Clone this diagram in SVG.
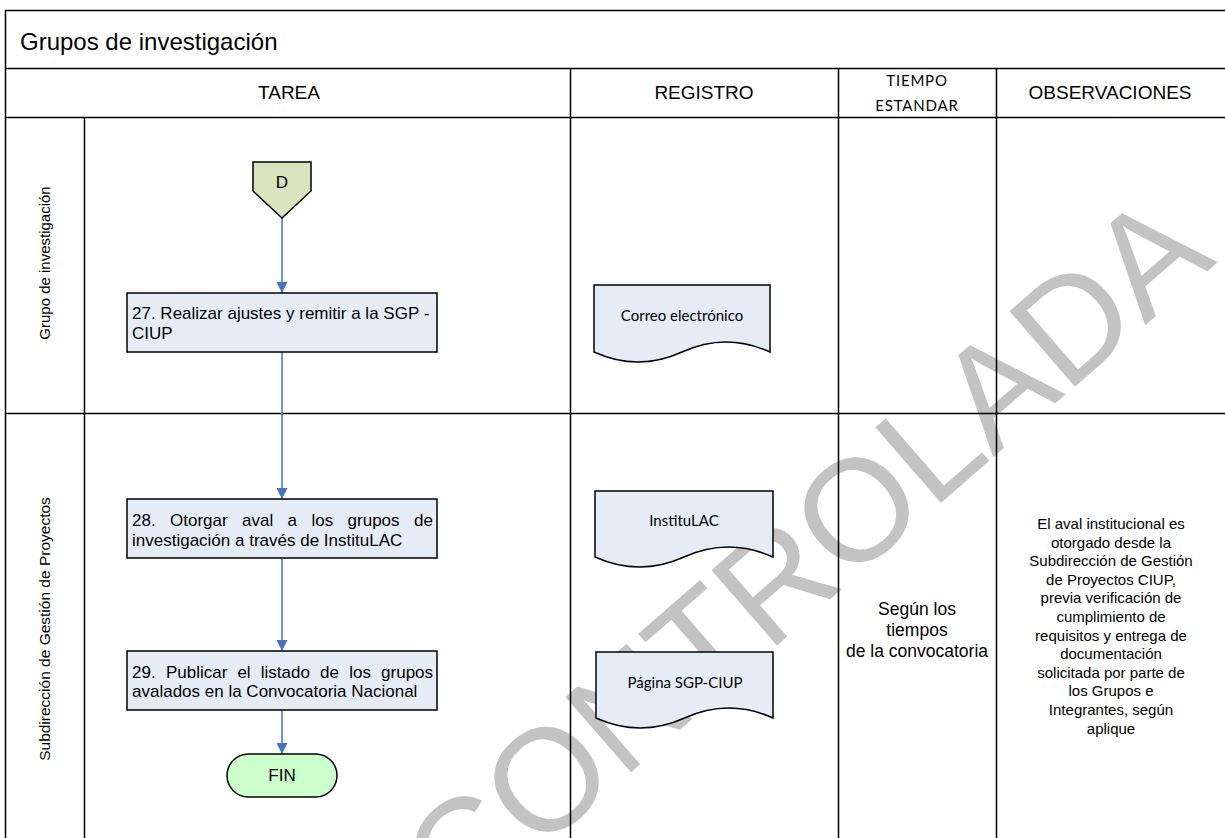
<svg xmlns="http://www.w3.org/2000/svg" width="1225" height="838" viewBox="0 0 1225 838">
<style>
.t{font-family:"Liberation Sans",Arial,sans-serif;fill:#000}
.c{font-family:Lato,"Liberation Sans",sans-serif;fill:#000}
.grid{stroke:#000;stroke-width:1.5;fill:none}
.box{fill:#e6ecf6;stroke:#000;stroke-width:1.5}
.conn{stroke:#4472c4;stroke-width:1.5;fill:none;marker-end:url(#arr)}
.wm{font-family:"Liberation Sans",Arial,sans-serif;fill:#c3c3c3;font-size:145px}
</style>
<defs>
<marker id="arr" viewBox="0 0 10 10" refX="10" refY="5" markerWidth="11" markerHeight="11" markerUnits="userSpaceOnUse" orient="auto"><path d="M0,0 L10,5 L0,10 z" fill="#4472c4"/></marker>
</defs>
<rect x="0" y="0" width="1225" height="838" fill="#fff"/>
<g id="watermark">
<text class="wm" transform="translate(1218,262) rotate(-41)" text-anchor="end">CONTROLADA</text>
</g>
<g id="table">
<path class="grid" d="M5.5,848 V10.5 H1230 M5.5,68.5 H1230 M5.5,117.5 H1230 M5.5,413.5 H1230 M84.5,117.5 V848 M570.5,68.5 V848 M838.5,68.5 V848 M996.5,68.5 V848"/>
<text class="t" x="20" y="50" font-size="24">Grupos de investigación</text>
<text class="t" x="289" y="99" font-size="19" text-anchor="middle">TAREA</text>
<text class="t" x="704" y="99" font-size="19" text-anchor="middle">REGISTRO</text>
<text class="c" x="917" y="86" font-size="15" text-anchor="middle" letter-spacing="0.8">TIEMPO</text>
<text class="c" x="917" y="111" font-size="15" text-anchor="middle" letter-spacing="0.8">ESTANDAR</text>
<text class="t" x="1110" y="99" font-size="19" text-anchor="middle">OBSERVACIONES</text>
</g>
<g id="lane1">
<text class="t" transform="translate(50,263) rotate(-90)" font-size="15" text-anchor="middle">Grupo de investigación</text>
</g>
<g id="lane2">
<text class="t" transform="translate(50,629) rotate(-90)" font-size="15.5" text-anchor="middle">Subdirección de Gestión de Proyectos</text>
</g>
<g id="connectors">
<path class="conn" d="M282,218 V293"/>
<path class="conn" d="M282,352 V499"/>
<path class="conn" d="M282,559 V651"/>
<path class="conn" d="M282,710 V754"/>
</g>
<g id="nodeD">
<path d="M253,162 H311 V191 L282,218 L253,191 Z" fill="#d7e4bd" stroke="#000" stroke-width="1.5"/>
<text class="t" x="282" y="188" font-size="17" text-anchor="middle">D</text>
</g>
<g id="task27">
<rect class="box" x="127" y="293" width="310" height="59"/>
<text class="t" font-size="17"><tspan x="132" y="319">27. Realizar ajustes y remitir a la SGP -</tspan><tspan x="132" y="339">CIUP</tspan></text>
</g>
<g id="task28">
<rect class="box" x="127" y="499" width="310" height="59"/>
<text class="t" font-size="17"><tspan x="132" y="526">28.</tspan><tspan x="170" y="526">Otorgar</tspan><tspan x="242" y="526">aval</tspan><tspan x="287.6" y="526">a</tspan><tspan x="311.5" y="526">los</tspan><tspan x="347.6" y="526">grupos</tspan><tspan x="414" y="526">de</tspan><tspan x="132" y="546">investigación a través de InstituLAC</tspan></text>
</g>
<g id="task29">
<rect class="box" x="127" y="651" width="310" height="59"/>
<text class="t" font-size="17"><tspan x="132" y="678">29.</tspan><tspan x="166" y="678">Publicar</tspan><tspan x="237.4" y="678">el</tspan><tspan x="260.8" y="678">listado</tspan><tspan x="320.1" y="678">de</tspan><tspan x="349.2" y="678">los</tspan><tspan x="381.1" y="678">grupos</tspan><tspan x="132" y="697">avalados en la Convocatoria Nacional</tspan></text>
</g>
<g id="fin">
<rect x="227" y="754" width="110" height="43" rx="21.5" fill="#ccffcc" stroke="#000" stroke-width="1.5"/>
<text class="t" x="282" y="781" font-size="17" text-anchor="middle">FIN</text>
</g>
<g id="docCorreo">
<path class="box" d="M594,285 H770 V352 Q726,332 682,352 T594,352 Z"/>
<text class="c" x="682" y="321" font-size="15" text-anchor="middle">Correo electrónico</text>
</g>
<g id="docInstitulac">
<path class="box" d="M595,491 H773 V557 Q728.5,537 684,557 T595,557 Z"/>
<text class="c" x="684" y="526" font-size="15" text-anchor="middle">InstituLAC</text>
</g>
<g id="docPagina">
<path class="box" d="M596,652 H773 V718 Q728.75,698 684.5,718 T596,718 Z"/>
<text class="c" x="685" y="688" font-size="15" text-anchor="middle">Página SGP-CIUP</text>
</g>
<g id="tiempo">
<text class="t" font-size="17.5" text-anchor="middle"><tspan x="917" y="615">Según los</tspan><tspan x="917" y="636">tiempos</tspan><tspan x="917" y="657">de la convocatoria</tspan></text>
</g>
<g id="observaciones">
<text class="t" font-size="15" text-anchor="middle"><tspan x="1111" y="529">El aval institucional es</tspan><tspan x="1111" y="547.6">otorgado desde la</tspan><tspan x="1111" y="566.2">Subdirección de Gestión</tspan><tspan x="1111" y="584.8">de Proyectos CIUP,</tspan><tspan x="1111" y="603.4">previa verificación de</tspan><tspan x="1111" y="622">cumplimiento de</tspan><tspan x="1111" y="640.6">requisitos y entrega de</tspan><tspan x="1111" y="659.2">documentación</tspan><tspan x="1111" y="677.8">solicitada por parte de</tspan><tspan x="1111" y="696.4">los Grupos e</tspan><tspan x="1111" y="715">Integrantes, según</tspan><tspan x="1111" y="733.6">aplique</tspan></text>
</g>
</svg>
